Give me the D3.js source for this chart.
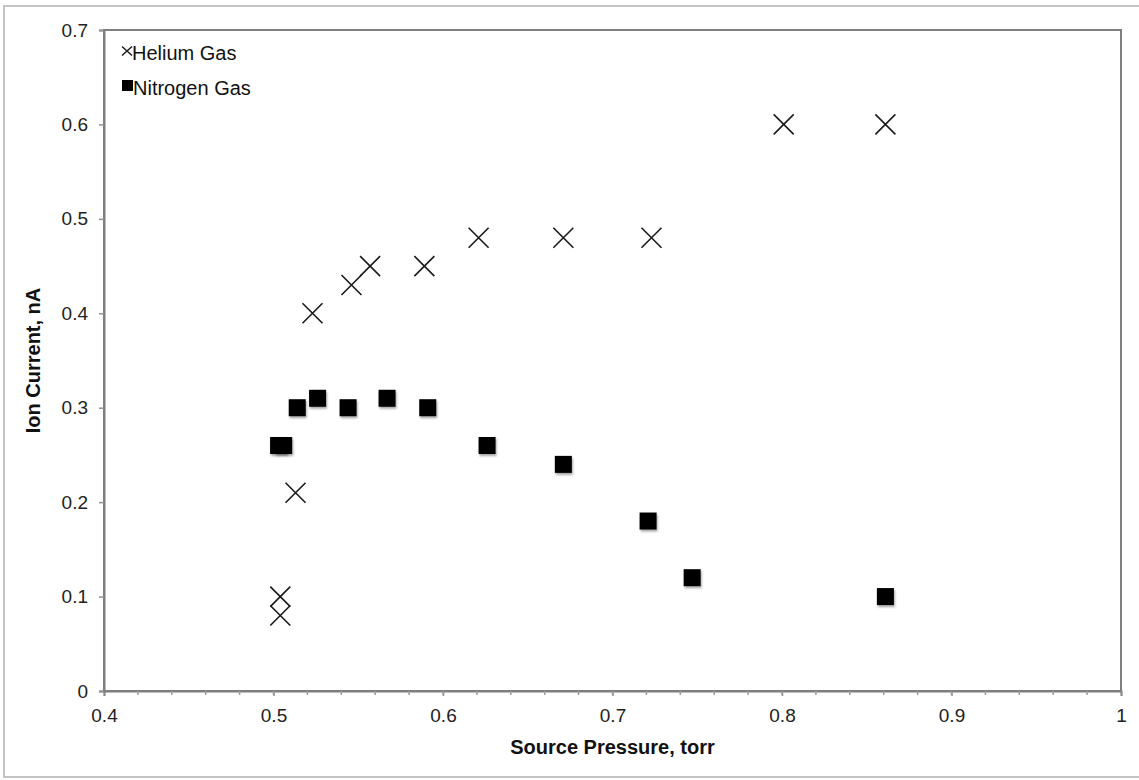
<!DOCTYPE html>
<html>
<head>
<meta charset="utf-8">
<script src="https://cdn.jsdelivr.net/npm/d3@7/dist/d3.min.js"></script>
<style>
  html, body { margin: 0; padding: 0; background: #fff; }
  svg { display: block; font-family: "Liberation Sans", Arial, sans-serif; }
</style>
</head>
<body>
<svg id="chart" width="1139" height="780"></svg>
<script>
// ---- data ----
const heliumX = [0.504, 0.504, 0.513, 0.523, 0.546, 0.557, 0.589, 0.621, 0.671, 0.723, 0.801, 0.861];
const heliumY = [0.08, 0.10, 0.21, 0.40, 0.43, 0.45, 0.45, 0.48, 0.48, 0.48, 0.60, 0.60];
const nitrogenX = [0.503, 0.506, 0.514, 0.526, 0.544, 0.567, 0.591, 0.626, 0.671, 0.721, 0.747, 0.861];
const nitrogenY = [0.26, 0.26, 0.30, 0.31, 0.30, 0.31, 0.30, 0.26, 0.24, 0.18, 0.12, 0.10];
const seriesNames = ["Helium Gas", "Nitrogen Gas"];
const xTicks = [0.4, 0.5, 0.6, 0.7, 0.8, 0.9, 1.0];
const yTicks = [0, 0.1, 0.2, 0.3, 0.4, 0.5, 0.6, 0.7];
const xTitle = "Source Pressure, torr";
const yTitle = "Ion Current, nA";

(function () {
// ---- layout ----
const svg = d3.select("#chart");
const pL = 104, pR = 1121, pT = 30, pB = 691;
const FONT = "Liberation Sans, Arial, sans-serif";

const x = d3.scaleLinear().domain([0.4, 1.0]).range([pL, pR]);
const y = d3.scaleLinear().domain([0, 0.7]).range([pB, pT]);

// outer frame
svg.append("rect")
  .attr("x", 4).attr("y", 6).attr("width", 1145).attr("height", 771)
  .attr("fill", "none").attr("stroke", "#c4c4c4").attr("stroke-width", 2);

// drop shadow filter for squares
const defs = svg.append("defs");
const f = defs.append("filter").attr("id", "sh").attr("x", "-30%").attr("y", "-30%").attr("width", "170%").attr("height", "170%");
f.append("feDropShadow").attr("dx", 1).attr("dy", 2).attr("stdDeviation", 1.2).attr("flood-color", "#000").attr("flood-opacity", 0.35);

// plot frame
svg.append("rect")
  .attr("x", pL).attr("y", pT).attr("width", pR - pL).attr("height", pB - pT)
  .attr("fill", "#fff").attr("stroke", "#7f7f7f").attr("stroke-width", 2);

// x axis
const xMinor = d3.range(0.42, 0.995, 0.02);
const xAxis = d3.axisBottom(x).tickValues(xTicks).tickFormat(d => d === 1 ? "1" : d3.format(".1f")(d)).tickSize(5).tickPadding(13);
const gx = svg.append("g").attr("transform", `translate(0,${pB})`).call(xAxis);
gx.select(".domain").attr("stroke", "#7f7f7f").attr("stroke-width", 2);
gx.selectAll(".tick line").attr("stroke", "#8f8f8f").attr("stroke-width", 1.5);
gx.selectAll(".tick text").attr("font-size", 19).attr("fill", "#222").attr("font-family", FONT);
gx.selectAll(".minor").data(xMinor).enter().append("line")
  .attr("class", "minor")
  .attr("x1", d => x(d)).attr("x2", d => x(d)).attr("y1", 0).attr("y2", 4)
  .attr("stroke", "#9a9a9a").attr("stroke-width", 1.5);

// y axis
const yAxis = d3.axisLeft(y).tickValues(yTicks).tickFormat(d => d === 0 ? "0" : d3.format(".1f")(d)).tickSize(5).tickPadding(11);
const gy = svg.append("g").attr("transform", `translate(${pL},0)`).call(yAxis);
gy.select(".domain").attr("stroke", "#7f7f7f").attr("stroke-width", 2);
gy.selectAll(".tick line").attr("stroke", "#8f8f8f").attr("stroke-width", 1.5);
gy.selectAll(".tick text").attr("font-size", 19).attr("fill", "#222").attr("font-family", FONT);

// axis titles
svg.append("text")
  .attr("x", (pL + pR) / 2).attr("y", 754)
  .attr("text-anchor", "middle").attr("font-size", 20).attr("font-weight", "bold").attr("fill", "#111")
  .text(xTitle);
svg.append("text")
  .attr("transform", `translate(40,${(pT + pB) / 2}) rotate(-90)`)
  .attr("text-anchor", "middle").attr("font-size", 20).attr("font-weight", "bold").attr("fill", "#111")
  .text(yTitle);

// markers
const crossHalf = 10;
const crossPath = `M${-crossHalf},${-crossHalf}L${crossHalf},${crossHalf}M${-crossHalf},${crossHalf}L${crossHalf},${-crossHalf}`;
const helium = heliumX.map((v, i) => ({ x: v, y: heliumY[i] }));
const nitrogen = nitrogenX.map((v, i) => ({ x: v, y: nitrogenY[i] }));

const sq = 17;
svg.append("g").selectAll("rect").data(nitrogen).enter().append("rect")
  .attr("x", d => x(d.x) - sq / 2).attr("y", d => y(d.y) - sq / 2)
  .attr("width", sq).attr("height", sq)
  .attr("fill", "#000").attr("filter", "url(#sh)");

svg.append("g").selectAll("path").data(helium).enter().append("path")
  .attr("transform", d => `translate(${x(d.x)},${y(d.y)})`)
  .attr("d", crossPath)
  .attr("stroke", "#1a1a1a").attr("stroke-width", 1.6).attr("fill", "none");

// legend
const lg = svg.append("g");
lg.append("path")
  .attr("transform", "translate(127,51)")
  .attr("d", "M-5,-4.5L5,4.5M-5,4.5L5,-4.5")
  .attr("stroke", "#1a1a1a").attr("stroke-width", 1.5);
lg.append("text").attr("x", 132).attr("y", 60).attr("font-size", 20).attr("fill", "#111").text(seriesNames[0]);
lg.append("rect").attr("x", 122).attr("y", 80).attr("width", 11).attr("height", 11).attr("fill", "#000");
lg.append("text").attr("x", 133).attr("y", 95).attr("font-size", 20).attr("fill", "#111").text(seriesNames[1]);
})();
</script>
</body>
</html>
